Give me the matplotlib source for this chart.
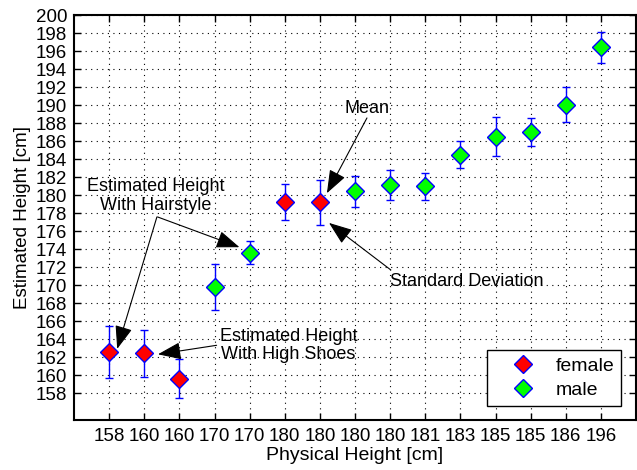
import matplotlib
matplotlib.use("Agg")
import matplotlib.pyplot as plt
from matplotlib.patches import ArrowStyle
import numpy as np

plt.rcParams['font.family'] = ['Liberation Sans', 'DejaVu Sans']

physical = ['158', '160', '160', '170', '170', '180', '180', '180', '180', '181', '183', '185', '185', '186', '196']
gender = ['female', 'female', 'female', 'male', 'male', 'female', 'female', 'male', 'male', 'male', 'male', 'male', 'male', 'male', 'male']
mean_est = [162.6, 162.4, 159.6, 169.8, 173.6, 179.2, 179.2, 180.4, 181.1, 181.0, 184.5, 186.5, 187.0, 190.05, 196.4]
std_est = [2.9, 2.6, 2.2, 2.55, 1.3, 2.0, 2.5, 1.7, 1.65, 1.5, 1.5, 2.2, 1.55, 1.95, 1.7]
yticks = list(range(158, 201, 2))

fig = plt.figure(figsize=(6.37, 4.70), dpi=100)
ax = fig.add_axes([74/637, 50/470, 562/637, 405/470])

x = np.arange(1, len(physical) + 1)
m = np.array(mean_est)
s = np.array(std_est)
g = np.array(gender)

ax.errorbar(x, m, yerr=s, fmt='none', ecolor='blue', elinewidth=1.0,
            capsize=3, capthick=1.0, zorder=3)
colors = {'female': 'red', 'male': '#00ff00'}
for lab in ['female', 'male']:
    sel = g == lab
    ax.plot(x[sel], m[sel], linestyle='none', marker='D', markersize=9.5,
            markerfacecolor=colors[lab], markeredgecolor='blue',
            markeredgewidth=1.0, label=lab, zorder=4)

ax.set_xlim(0, 16)
ax.set_ylim(155, 200)
ax.set_xticks(x)
ax.set_xticklabels(physical)
ax.set_yticks(yticks)
ax.tick_params(axis='both', which='both', direction='in', top=True, right=True,
               labelsize=13.5, length=5, width=1.0, pad=6, colors='black')
ax.tick_params(axis='y', pad=5)
ax.grid(True, color='black', linestyle=(0, (1, 4)), linewidth=0.8)
ax.set_axisbelow(True)
for sp in ax.spines.values():
    sp.set_linewidth(1.5)
ax.set_xlabel('Physical Height [cm]', fontsize=14, labelpad=1)
ax.set_ylabel('Estimated Height [cm]', fontsize=13.5, labelpad=3)

leg = ax.legend(loc='lower right', bbox_to_anchor=(0.973, 0.035), fontsize=14,
                frameon=True, fancybox=False, edgecolor='black', framealpha=1,
                handlelength=3.0, handletextpad=0.15, borderpad=0.35,
                labelspacing=0.35, borderaxespad=0)
leg.get_frame().set_linewidth(1.0)

style = ArrowStyle('-|>', head_length=1.2, head_width=0.45)
ap = dict(arrowstyle=style, mutation_scale=12, color='black', lw=0.8,
          shrinkA=0, shrinkB=0)
fs = 13

# Mean
ax.text(8.34, 188.7, 'Mean', ha='center', va='bottom', fontsize=fs)
ax.annotate('', xy=(x[6] + 0.2, m[6] + 1.0), xytext=(8.34, 188.56), arrowprops=ap)
# Standard Deviation
ax.text(11.17, 170.4, 'Standard Deviation', ha='center', va='center', fontsize=fs)
ax.annotate('', xy=(x[6] + 0.26, m[6] - s[6] + 0.2), xytext=(9.02, 171.67), arrowprops=ap)
# Hairstyle
ax.text(2.33, 179.9, 'Estimated Height\nWith Hairstyle', ha='center', va='center',
        fontsize=fs, linespacing=1.1)
ax.annotate('', xy=(x[0] + 0.23, m[0] + 0.3), xytext=(2.36, 177.56), arrowprops=ap)
ax.annotate('', xy=(x[4] - 0.29, m[4] + 0.6), xytext=(2.38, 177.56), arrowprops=ap)
# High shoes
ax.text(6.10, 163.3, 'Estimated Height\nWith High Shoes', ha='center', va='center',
        fontsize=fs, linespacing=1.1)
ax.annotate('', xy=(x[1] + 0.39, m[1] - 0.1), xytext=(4.06, 163.3), arrowprops=ap)

fig.savefig('out.png', dpi=100)
